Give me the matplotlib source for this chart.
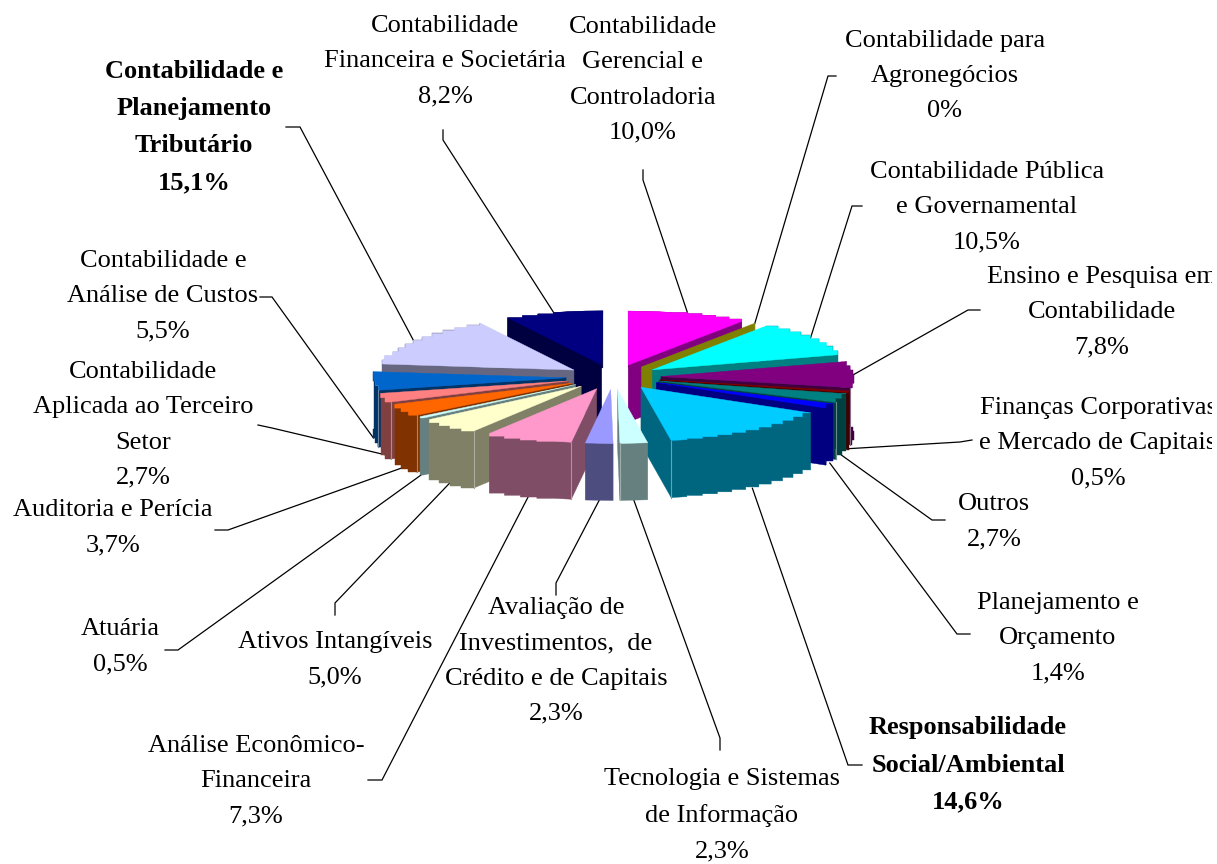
import numpy as np
import matplotlib
matplotlib.use("Agg")
import matplotlib.pyplot as plt
from matplotlib.patches import Polygon

categories = ["Contabilidade\nGerencial e\nControladoria", "Contabilidade para\nAgronegócios",
    "Contabilidade Pública\ne Governamental", "Ensino e Pesquisa em\nContabilidade",
    "Finanças Corporativas\ne Mercado de Capitais", "Outros", "Planejamento e\nOrçamento",
    "Responsabilidade\nSocial/Ambiental", "Tecnologia e Sistemas\nde Informação",
    "Avaliação de\nInvestimentos,  de\nCrédito e de Capitais", "Análise Econômico-\nFinanceira",
    "Ativos Intangíveis", "Atuária", "Auditoria e Perícia",
    "Contabilidade\nAplicada ao Terceiro\nSetor", "Contabilidade e\nAnálise de Custos",
    "Contabilidade e\nPlanejamento\nTributário", "Contabilidade\nFinanceira e Societária"]
values = [10.0, 0, 10.5, 7.8, 0.5, 2.7, 1.4, 14.6, 2.3, 2.3, 7.3, 5.0, 0.5, 3.7, 2.7, 5.5, 15.1, 8.2]
top_colors = ["#FF00FF", "#FFFF00", "#00FFFF", "#800080", "#800000", "#008080", "#0000FF", "#00CCFF",
    "#CCFFFF", "#9999FF", "#FF99CC", "#FFFFCC", "#CCFFFF", "#FF6600", "#FF8080", "#0066CC", "#CCCCFF", "#000080"]
bold_labels = {7, 16}

# layout: label centre (px) and the elbow of every leader line (px)
label_xy = [(643, 80), (945, 76), (987, 207), (1102, 312), (1098, 443), (994, 522), (1058, 638),
    (968, 765), (722, 815), (556, 661), (256, 781), (335, 660), (120, 647), (113, 528), (143, 425),
    (163, 296), (194, 127), (445, 61)]
leaders = [[(643, 170), (643, 180)], [(836, 76), (828, 76)], [(862, 206), (852, 206)], [(980, 310), (968, 310)],
    [(972, 440), (960, 442)], [(945, 520), (932, 520)], [(970, 634), (957, 634)], [(862, 765), (848, 765)],
    [(720, 750), (720, 738)], [(556, 595), (556, 583)], [(368, 780), (382, 780)], [(335, 615), (335, 603)],
    [(165, 650), (178, 650)], [(215, 530), (228, 530)], [(258, 425), (272, 428)], [(260, 297), (272, 297)],
    [(286, 127), (300, 127)], [(443, 130), (443, 140)]]

CX, CY = 613.5, 377    # pie centre
RX, RY = 193, 54       # top ellipse
EX, EY = 47.5, 12.5    # explosion
DEPTH = 57
FONT = 19.0

plt.rcParams['font.family'] = ['Liberation Serif', 'DejaVu Serif']
fig = plt.figure(figsize=(12.17, 8.64), dpi=100, facecolor='white')
ax = fig.add_axes([0, 0, 1212 / 1217, 1])
ax.set_xlim(0, 1212)
ax.set_ylim(864, 0)
ax.axis('off')


def dark(c):
    return tuple(v / 2 for v in matplotlib.colors.to_rgb(c))


def light(c):
    return tuple(0.5 * v / 2 + 0.5 * 0.85 for v in matplotlib.colors.to_rgb(c))


def stair(tip, a0, a1):
    n = max(int(abs(a1 - a0) / 4.4), 1)
    ang = np.radians(np.linspace(a0, a1, n + 1))
    xs = tip[0] + RX * np.sin(ang)
    ys = tip[1] - RY * np.cos(ang)
    pts = [(xs[0], ys[0])]
    for i in range(1, n + 1):
        if abs(ys[i] - ys[i - 1]) < 1:
            pts.append((xs[i], ys[i]))
        elif abs(xs[i] - xs[i - 1]) >= abs(ys[i] - ys[i - 1]):
            pts += [(xs[i], ys[i - 1]), (xs[i], ys[i])]
        else:
            pts += [(xs[i - 1], ys[i]), (xs[i], ys[i])]
    return pts


starts = np.cumsum([0] + values[:-1]) * 3.6
ends = starts + np.array(values) * 3.6
mids = (starts + ends) / 2
order = np.argsort(-np.cos(np.radians(mids)), kind='stable')
z = 2
for i in order:
    a0, a1, m = starts[i], ends[i], np.radians(mids[i])
    tip = (CX + EX * np.sin(m), CY - EY * np.cos(m))
    arc = stair(tip, a0, a1)
    down = [(x, y + DEPTH) for x, y in arc]
    wall = dark(top_colors[i])
    parts = []
    for a, visible in ((a0, 180 < a0 < 360), (a1, 0 < a1 < 180)):
        if visible:
            e = (tip[0] + RX * np.sin(np.radians(a)), tip[1] - RY * np.cos(np.radians(a)))
            parts.append([tip, e, (e[0], e[1] + DEPTH), (tip[0], tip[1] + DEPTH)])
    parts.append(arc + down[::-1])
    for p in parts:
        ax.add_patch(Polygon(p, closed=True, fc=wall, ec=wall, lw=0.3, zorder=z))
    if values[i] > 0:
        ax.add_patch(Polygon([tip] + arc, closed=True, fc=top_colors[i], ec=top_colors[i], lw=0.3, zorder=z + 0.1))
    for a, visible in ((a0, 180 < a0 < 270), (a1, 90 < a1 < 180)):
        if visible and values[i] > 2:
            ex = tip[0] + RX * np.sin(np.radians(a))
            ey = tip[1] - RY * np.cos(np.radians(a))
            ax.plot([ex, ex], [ey, ey + DEPTH], color=light(top_colors[i]), lw=0.8, zorder=z + 0.2)
    z += 1

for i, name in enumerate(categories):
    m = np.radians(mids[i])
    px = CX + EX * np.sin(m) + RX * np.sin(m)
    py = CY - EY * np.cos(m) - RY * np.cos(m)
    if np.cos(m) < 0:
        py += DEPTH
    chain = leaders[i] + [(px, py)]
    ax.plot([p[0] for p in chain], [p[1] for p in chain], color='black', lw=0.9, zorder=1,
            solid_joinstyle='miter')
    val = "0%" if values[i] == 0 else f"{values[i]:.1f}".replace('.', ',') + "%"
    ax.text(label_xy[i][0], label_xy[i][1], name + "\n" + val, ha='center', va='center', multialignment='center',
            fontsize=FONT, linespacing=1.78, color='black', clip_on=True, zorder=100,
            fontweight='bold' if i in bold_labels else 'normal')

fig.savefig("out.png", dpi=100, facecolor='white')
